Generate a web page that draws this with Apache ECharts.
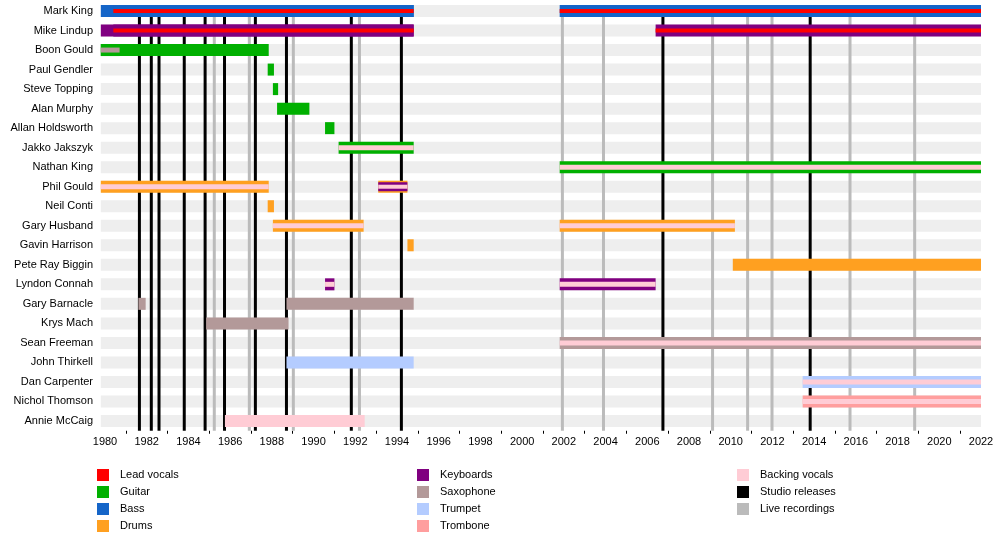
<!DOCTYPE html>
<html>
<head>
<meta charset="utf-8">
<script src="https://cdn.jsdelivr.net/npm/echarts@6/dist/echarts.min.js"></script>
<style>html,body{margin:0;padding:0;background:#fff}#chart{width:1000px;height:535px}</style>
</head>
<body>
<div id="chart"></div>
<script>
// band members, top to bottom
const members = ['Mark King', 'Mike Lindup', 'Boon Gould', 'Paul Gendler', 'Steve Topping', 'Alan Murphy',
  'Allan Holdsworth', 'Jakko Jakszyk', 'Nathan King', 'Phil Gould', 'Neil Conti', 'Gary Husband',
  'Gavin Harrison', 'Pete Ray Biggin', 'Lyndon Connah', 'Gary Barnacle', 'Krys Mach', 'Sean Freeman',
  'John Thirkell', 'Dan Carpenter', 'Nichol Thomson', 'Annie McCaig'];

// [member, from, to, roles (outer to inner)]
const periods = [
  ['Mark King', 1979.8, 1994.8, ['Bass']],
  ['Mark King', 1980.4, 1994.8, ['Bass', 'Lead vocals']],
  ['Mark King', 2001.8, 2022, ['Bass', 'Lead vocals']],
  ['Mike Lindup', 1979.8, 1994.8, ['Keyboards']],
  ['Mike Lindup', 1980.4, 1994.8, ['Keyboards', 'Lead vocals']],
  ['Mike Lindup', 2006.4, 2022, ['Keyboards', 'Lead vocals']],
  ['Boon Gould', 1979.8, 1987.85, ['Guitar']],
  ['Boon Gould', 1979.8, 1980.7, ['Guitar', 'Saxophone']],
  ['Paul Gendler', 1987.8, 1988.1, ['Guitar']],
  ['Steve Topping', 1988.05, 1988.3, ['Guitar']],
  ['Alan Murphy', 1988.25, 1989.8, ['Guitar']],
  ['Allan Holdsworth', 1990.55, 1991.0, ['Guitar']],
  ['Jakko Jakszyk', 1991.2, 1994.8, ['Guitar', 'Backing vocals']],
  ['Nathan King', 2001.8, 2022, ['Guitar', 'Backing vocals']],
  ['Phil Gould', 1979.8, 1987.85, ['Drums', 'Backing vocals']],
  ['Phil Gould', 1993.1, 1994.5, ['Drums', 'Keyboards', 'Backing vocals']],
  ['Neil Conti', 1987.8, 1988.1, ['Drums']],
  ['Gary Husband', 1988.05, 1992.4, ['Drums', 'Backing vocals']],
  ['Gary Husband', 2001.8, 2010.2, ['Drums', 'Backing vocals']],
  ['Gavin Harrison', 1994.5, 1994.8, ['Drums']],
  ['Pete Ray Biggin', 2010.1, 2022, ['Drums']],
  ['Lyndon Connah', 1990.55, 1991.0, ['Keyboards', 'Backing vocals']],
  ['Lyndon Connah', 2001.8, 2006.4, ['Keyboards', 'Backing vocals']],
  ['Gary Barnacle', 1981.6, 1981.95, ['Saxophone']],
  ['Gary Barnacle', 1988.7, 1994.8, ['Saxophone']],
  ['Krys Mach', 1984.85, 1988.8, ['Saxophone']],
  ['Sean Freeman', 2001.8, 2022, ['Saxophone', 'Backing vocals']],
  ['John Thirkell', 1988.7, 1994.8, ['Trumpet']],
  ['Dan Carpenter', 2013.45, 2022, ['Trumpet', 'Backing vocals']],
  ['Nichol Thomson', 2013.45, 2022, ['Trombone', 'Backing vocals']],
  ['Annie McCaig', 1985.75, 1992.45, ['Backing vocals']]
];

const studioReleases = [1981.65, 1982.22, 1982.59, 1983.8, 1984.8, 1985.73, 1987.21, 1988.7, 1991.81, 1994.21, 2006.75, 2013.81];
const liveRecordings = [1985.24, 1986.92, 1989.03, 1992.2, 2001.93, 2003.9, 2009.13, 2010.81, 2011.98, 2015.72, 2018.82];

const legendItems = [
  ['Lead vocals', 'Guitar', 'Bass', 'Drums'],
  ['Keyboards', 'Saxophone', 'Trumpet', 'Trombone'],
  ['Backing vocals', 'Studio releases', 'Live recordings']
];

const colors = {
  'Lead vocals': '#ff0000', 'Guitar': '#00b000', 'Bass': '#1565c8', 'Drums': '#ffa020',
  'Keyboards': '#800080', 'Saxophone': '#b39999', 'Trumpet': '#b4ccff', 'Trombone': '#ff9e9e',
  'Backing vocals': '#ffccd5', 'Studio releases': '#000000', 'Live recordings': '#bbbbbb'
};

const chart = echarts.init(document.getElementById('chart'));

function layerHeights(roles) {
  if (roles.length === 1) return [12];
  if (roles.length === 3) return [12, 9, 4];
  return [12, roles[1] === 'Lead vocals' ? 4 : 5];
}

function barItem(params, api) {
  const row = api.value(0);
  const p0 = api.coord([api.value(1), row]);
  const p1 = api.coord([api.value(2), row]);
  const roles = periods[params.dataIndex][3];
  const hs = layerHeights(roles);
  return {
    type: 'group',
    children: roles.map((r, i) => ({
      type: 'rect',
      shape: { x: p0[0], y: p0[1] - hs[i] / 2, width: p1[0] - p0[0], height: hs[i] },
      style: { fill: colors[r] }
    }))
  };
}

function vline(color) {
  return function (params, api) {
    const x = api.coord([api.value(0), 0])[0];
    const top = api.coord([api.value(0), 0])[1] + 6;
    const cs = params.coordSys;
    return { type: 'rect', shape: { x: x - 1.5, y: top, width: 3, height: cs.y + cs.height - top }, style: { fill: color } };
  };
}

const legendGraphics = [];
legendItems.forEach((col, ci) => {
  col.forEach((name, ri) => {
    const x = 97 + ci * 320, y = 469 + ri * 17;
    legendGraphics.push({ type: 'rect', left: x, top: y, shape: { width: 12, height: 12 }, style: { fill: colors[name] } });
    legendGraphics.push({ type: 'text', left: x + 23, top: y, style: { text: name, fill: '#000', font: '11px "Liberation Sans", Arial, sans-serif' } });
  });
});

chart.setOption({
  animation: false,
  textStyle: { fontFamily: '"Liberation Sans", Arial, sans-serif' },
  grid: { left: 105, right: 19, top: 1.25, bottom: 104.25 },
  xAxis: {
    type: 'value', min: 1980, max: 2022, interval: 2,
    axisLine: { lineStyle: { color: '#000' } },
    axisTick: { length: 4, lineStyle: { color: '#000' } },
    minorTick: { show: true, splitNumber: 2, length: 3, lineStyle: { color: '#000' } },
    axisLabel: { color: '#000', fontSize: 11, margin: 6, formatter: v => String(v) },
    splitLine: { show: false }
  },
  yAxis: {
    type: 'category', data: members, inverse: true,
    axisLine: { show: false }, axisTick: { show: false },
    axisLabel: { color: '#000', fontSize: 11, margin: 12 }
  },
  graphic: legendGraphics,
  series: [
    {
      type: 'custom', z: 1, silent: true, clip: false,
      data: members.map((m, i) => [i, 1979.8, 2022]),
      renderItem: (params, api) => {
        const p0 = api.coord([api.value(1), api.value(0)]);
        const p1 = api.coord([api.value(2), api.value(0)]);
        return { type: 'rect', shape: { x: p0[0], y: p0[1] - 6, width: p1[0] - p0[0], height: 12 }, style: { fill: '#eeeeee' } };
      }
    },
    { type: 'custom', z: 2, silent: true, data: liveRecordings.map(v => [v]), renderItem: vline(colors['Live recordings']) },
    { type: 'custom', z: 3, silent: true, data: studioReleases.map(v => [v]), renderItem: vline(colors['Studio releases']) },
    {
      type: 'custom', z: 4, silent: true, clip: false,
      data: periods.map(p => [members.indexOf(p[0]), p[1], p[2]]),
      renderItem: barItem
    }
  ]
});
</script>
</body>
</html>
